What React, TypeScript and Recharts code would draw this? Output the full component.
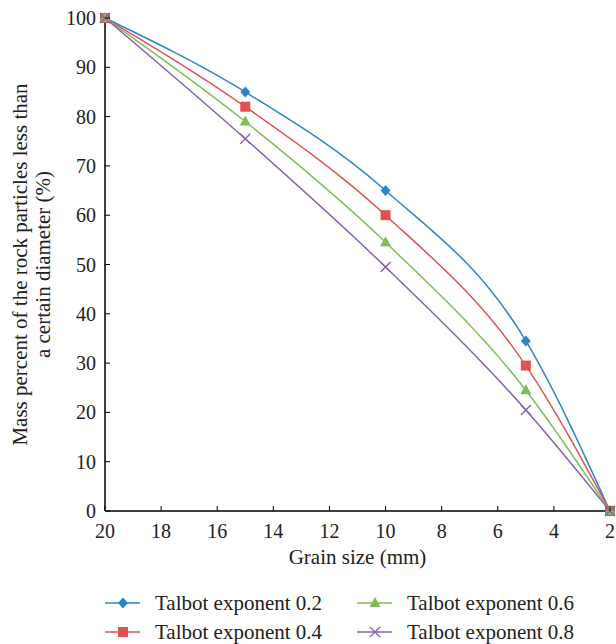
import React from "react";
import { LineChart, Line, XAxis, YAxis, Legend } from "recharts";

// Grain size (mm) at each sieve point
const grainSizes = [20, 15, 10, 5, 2];

// Cumulative mass percent passing for each Talbot exponent
const talbot02 = [100, 85, 65, 34.5, 0];
const talbot04 = [100, 82, 60, 29.5, 0];
const talbot06 = [100, 79, 54.5, 24.5, 0];
const talbot08 = [100, 75.5, 49.5, 20.5, 0];

const xTicks = [20, 18, 16, 14, 12, 10, 8, 6, 4, 2];
const yTicks = [0, 10, 20, 30, 40, 50, 60, 70, 80, 90, 100];

const FONT = '"Liberation Serif", "Times New Roman", "DejaVu Serif", serif';
const tickStyle: React.CSSProperties = { fontFamily: FONT, fontSize: 20 };
const textStyle: React.CSSProperties = { fontFamily: FONT, fontSize: 21 };

type Shape = "diamond" | "square" | "triangle" | "cross";

const series: { key: string; name: string; color: string; shape: Shape; values: number[] }[] = [
  { key: "t02", name: "Talbot exponent 0.2", color: "#2E86C9", shape: "diamond", values: talbot02 },
  { key: "t04", name: "Talbot exponent 0.4", color: "#E05252", shape: "square", values: talbot04 },
  { key: "t06", name: "Talbot exponent 0.6", color: "#7DBE58", shape: "triangle", values: talbot06 },
  { key: "t08", name: "Talbot exponent 0.8", color: "#8662AA", shape: "cross", values: talbot08 },
];

const data = grainSizes.map((size, i) => {
  const row: Record<string, number> = { size };
  series.forEach((s) => {
    row[s.key] = s.values[i];
  });
  return row;
});

function Marker({ cx, cy, shape, color }: { cx: number; cy: number; shape: Shape; color: string }) {
  switch (shape) {
    case "diamond":
      return <path d={`M${cx},${cy - 5.5} L${cx + 5},${cy} L${cx},${cy + 5.5} L${cx - 5},${cy} Z`} fill={color} />;
    case "square":
      return <rect x={cx - 5} y={cy - 5} width={10} height={10} fill={color} />;
    case "triangle":
      return <path d={`M${cx},${cy - 6} L${cx + 5.5},${cy + 4} L${cx - 5.5},${cy + 4} Z`} fill={color} />;
    default:
      return (
        <path
          d={`M${cx - 5},${cy - 5} L${cx + 5},${cy + 5} M${cx - 5},${cy + 5} L${cx + 5},${cy - 5}`}
          stroke={color}
          strokeWidth={1.4}
          fill="none"
        />
      );
  }
}

const makeDot = (shape: Shape, color: string) => (props: any) => {
  const { cx, cy, index } = props;
  if (cx == null || cy == null) return <g key={`dot-${shape}-${index}`} />;
  return (
    <g key={`dot-${shape}-${index}`}>
      <Marker cx={cx} cy={cy} shape={shape} color={color} />
    </g>
  );
};

// Tick marks point inward, so they are drawn alongside the labels
const YTick = (props: any) => {
  const { x, y, payload } = props;
  return (
    <g>
      <line x1={x + 8} y1={y} x2={x + 13} y2={y} stroke="#000" strokeWidth={1} />
      <text x={x - 1} y={y + 7} textAnchor="end" style={tickStyle} fill="#222">
        {payload.value}
      </text>
    </g>
  );
};

const XTick = (props: any) => {
  const { x, y, payload } = props;
  return (
    <g>
      <line x1={x} y1={y - 8} x2={x} y2={y - 13} stroke="#000" strokeWidth={1} />
      <text x={x} y={y + 19} textAnchor="middle" style={tickStyle} fill="#222">
        {payload.value}
      </text>
    </g>
  );
};

const XLabel = (props: any) => {
  const vb = props.viewBox || {};
  const cx = (vb.x ?? 105) + (vb.width ?? 505) / 2;
  return (
    <text x={cx} y={564} textAnchor="middle" style={textStyle} fill="#222">
      Grain size (mm)
    </text>
  );
};

const YLabel = (props: any) => {
  const vb = props.viewBox || {};
  const cy = (vb.y ?? 18) + (vb.height ?? 493) / 2;
  return (
    <g>
      <text transform={`translate(27, ${cy}) rotate(-90)`} textAnchor="middle" style={textStyle} fill="#222">
        Mass percent of the rock particles less than
      </text>
      <text transform={`translate(50, ${cy}) rotate(-90)`} textAnchor="middle" style={textStyle} fill="#222">
        a certain diameter (%)
      </text>
    </g>
  );
};

const LegendContent = () => {
  const cols = [105, 357];
  return (
    <svg width={616} height={56} style={{ display: "block" }}>
      {series.map((s, i) => {
        const x0 = cols[Math.floor(i / 2)];
        const y = i % 2 === 0 ? 15 : 44;
        return (
          <g key={s.key}>
            <line x1={x0} y1={y} x2={x0 + 35} y2={y} stroke={s.color} strokeWidth={1.5} />
            <Marker cx={x0 + 18} cy={y} shape={s.shape} color={s.color} />
            <text x={x0 + 50} y={y + 7} style={textStyle} fill="#222">
              {s.name}
            </text>
          </g>
        );
      })}
    </svg>
  );
};

export default function App() {
  return (
    <div style={{ position: "absolute", left: 0, top: 0, width: 616, height: 644, background: "#fff" }}>
      <LineChart width={616} height={644} data={data} margin={{ top: 18, right: 6, left: 0, bottom: 0 }}>
        <XAxis
          dataKey="size"
          type="number"
          domain={[2, 20]}
          ticks={xTicks}
          reversed
          height={77}
          tickSize={8}
          tickMargin={0}
          tickLine={false}
          tick={<XTick />}
          axisLine={{ stroke: "#000", strokeWidth: 1.5 }}
          label={<XLabel />}
          interval={0}
        />
        <YAxis
          type="number"
          domain={[0, 100]}
          ticks={yTicks}
          width={105}
          tickSize={8}
          tickMargin={0}
          tickLine={false}
          tick={<YTick />}
          axisLine={{ stroke: "#000", strokeWidth: 1.5 }}
          label={<YLabel />}
          interval={0}
        />
        <Legend
          verticalAlign="bottom"
          height={56}
          wrapperStyle={{ left: 0, bottom: 0, width: 616, height: 56 }}
          content={<LegendContent />}
        />
        {series.map((s) => (
          <Line
            key={s.key}
            dataKey={s.key}
            name={s.name}
            type="monotoneX"
            stroke={s.color}
            strokeWidth={1.5}
            dot={makeDot(s.shape, s.color)}
            activeDot={false}
            isAnimationActive={false}
          />
        ))}
      </LineChart>
    </div>
  );
}
